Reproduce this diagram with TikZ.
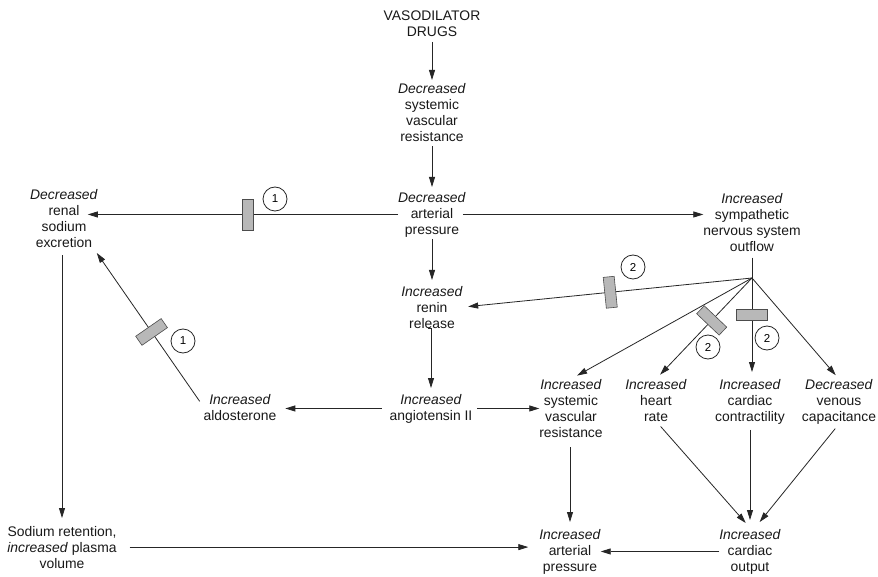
\documentclass[tikz,border=0pt]{standalone}
\usepackage{fontspec}
\setmainfont{Liberation Sans}
\usetikzlibrary{arrows.meta,calc}
\begin{document}
\begin{tikzpicture}[x=1pt,y=-1pt,
  txt/.style={align=center, inner sep=0pt, outer sep=0pt, anchor=north, font=\fontsize{13.9}{16}\selectfont, text=black!90},
  arr/.style={draw=black!85, line width=0.8pt, -{Triangle[length=10pt,width=6pt]}},
  ln/.style={draw=black!85, line width=0.8pt},
  blk/.style={rectangle, draw=black!70, fill=black!28, line width=0.6pt, minimum width=11pt, minimum height=31pt, inner sep=0pt, sloped},
  num/.style={circle, draw=black!85, line width=0.8pt, minimum size=24pt, inner sep=0pt, font=\fontsize{11.5}{12}\selectfont}]
\useasboundingbox (0,0) rectangle (878,577);
\fill[white] (0,0) rectangle (878,577);

% nodes
\node[txt] (drugs) at (432,11) {VASODILATOR\\DRUGS};
\node[txt] (dsvr) at (432,83) {\textit{Decreased}\\systemic\\vascular\\resistance};
\node[txt] (dap) at (432,192) {\textit{Decreased}\\arterial\\pressure};
\node[txt] (renin) at (432,286) {\textit{Increased}\\renin\\release};
\node[txt] (ang) at (431,394) {\textit{Increased}\\angiotensin II};
\node[txt] (ald) at (240,394) {\textit{Increased}\\aldosterone};
\node[txt] (renal) at (64,189) {\textit{Decreased}\\renal\\sodium\\excretion};
\node[txt] (sym) at (752,193) {\textit{Increased}\\sympathetic\\nervous system\\outflow};
\node[txt] (isvr) at (571,379) {\textit{Increased}\\systemic\\vascular\\resistance};
\node[txt] (hr) at (656,379) {\textit{Increased}\\heart\\rate};
\node[txt] (cc) at (750,379) {\textit{Increased}\\cardiac\\contractility};
\node[txt] (vc) at (839,379) {\textit{Decreased}\\venous\\capacitance};
\node[txt] (sod) at (62,526) {Sodium retention,\\\textit{increased} plasma\\volume};
\node[txt] (iap) at (570,529) {\textit{Increased}\\arterial\\pressure};
\node[txt] (co) at (750,529) {\textit{Increased}\\cardiac\\output};
\coordinate (br) at (752,278);

% central column
\draw[arr, shorten <=5pt, shorten >=3pt] (drugs.south) -- (dsvr.north);
\draw[arr, shorten <=5pt, shorten >=5pt] (dsvr.south) -- (dap.north);
\draw[arr, shorten <=2pt, shorten >=6pt] (dap.south) -- (renin.north);
\draw[arr, shorten <=4pt, shorten >=6pt] (renin.south) -- (ang.north |- renin.south) -- (ang.north);

% from arterial pressure
\draw[arr, shorten >=-10pt] (dap.west) -- (dap.west -| renal.east) node[blk, pos=.5] (b1) {};
\draw[arr, shorten <=-3pt] (dap.east) -- (dap.east -| sym.west);

% sympathetic branches
\draw[ln, shorten <=6.5pt] (sym.south) -- (br);
\draw[arr, shorten >=5.5pt] (br) -- (renin.east) node[blk, pos=.49] (b3) {};
\draw[arr, shorten >=7pt] (br) -- (isvr.north);
\draw[arr, shorten >=6pt] (br) -- (hr.north) node[blk, pos=.42] (b4) {};
\draw[arr, shorten >=7pt] (br) -- (br |- cc.north) node[blk, pos=.36] (b5) {};
\draw[arr, shorten >=5pt] (br) -- (vc.north);

% angiotensin
\draw[arr, shorten <=8pt, shorten >=9pt] (ang.west) -- (ang.west -| ald.east);
\draw[arr, shorten <=5pt] (ang.east) -- (ang.east -| isvr.west);
\draw[arr, shorten <=7pt, shorten >=7pt] (ald.west) -- ([xshift=-5pt]renal.south east) node[blk, pos=.47] (b2) {};

% left column and bottom
\draw[arr, shorten <=8pt, shorten >=8pt] (renal.south -| sod.north) -- (sod.north);
\draw[arr, shorten <=13pt, shorten >=11pt] (sod.east) -- (sod.east -| iap.west);
\draw[arr] (co.west) -- (co.west -| iap.east);
\draw[arr, shorten <=10pt, shorten >=7pt] (iap.north |- isvr.south) -- (iap.north);
\draw[arr, shorten <=7pt, shorten >=8pt] (hr.south) -- ([xshift=1pt]co.north);
\draw[arr, shorten <=6pt, shorten >=9pt] (cc.south) -- (cc.south |- co.north);
\draw[arr, shorten <=6pt, shorten >=9pt] (vc.south) -- ([xshift=4pt]co.north);

% circled numbers
\node[num] (n1a) at (275,199) {1};
\node[num] (n1b) at (183,341) {1};
\node[num] (n2a) at (633,267) {2};
\node[num] (n2b) at (708,347) {2};
\node[num] (n2c) at (767,338) {2};
\end{tikzpicture}
\end{document}
